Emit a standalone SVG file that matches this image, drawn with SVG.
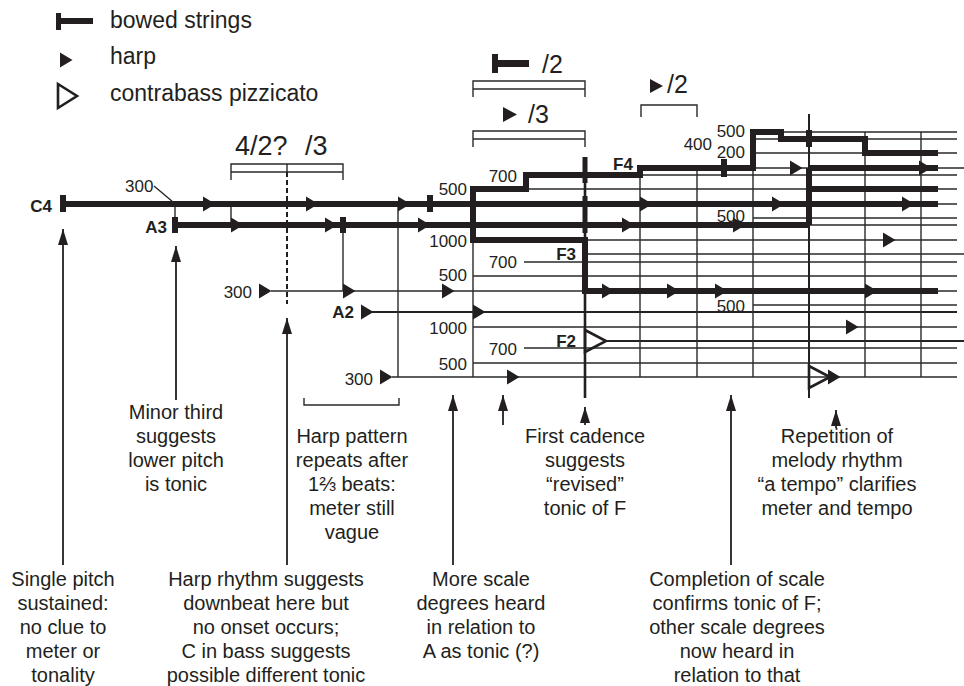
<svg xmlns="http://www.w3.org/2000/svg" xmlns:xlink="http://www.w3.org/1999/xlink" width="964" height="686" viewBox="0 0 964 686">
<style>
text{font-family:"Liberation Sans",Arial,sans-serif;fill:#231f20}
.lg{font-size:23px}
.num{font-size:17px}
.nb{font-size:17px;font-weight:bold}
.big{font-size:25px}
.ann{font-size:20px;text-anchor:middle}
.thin{stroke:#2a2a2a;stroke-width:1.4;fill:none}
.med{stroke:#222;stroke-width:2;fill:none}
.thick{stroke:#231f20;stroke-width:6;fill:none;stroke-linejoin:miter}
.bow{stroke:#231f20;stroke-width:6}
.arr{stroke:#231f20;stroke-width:1.8;fill:none;marker-end:url(#ah)}
.cb{fill:none;stroke:#231f20;stroke-width:2.6;stroke-linejoin:miter}
.h{fill:#231f20}
</style>
<defs>
<path id="hp" d="M0,-7.5 L12.5,0 L0,7.5 Z"/>
<marker id="ah" markerUnits="userSpaceOnUse" markerWidth="18" markerHeight="12" refX="16" refY="5" orient="auto">
<path d="M0,0 L16,5 L0,10 Z" fill="#231f20"/>
</marker>
</defs>
<rect width="964" height="686" fill="#fff"/>

<g id="legend">
<rect x="56" y="13" width="5" height="17" class="h"/>
<rect x="61" y="18" width="32" height="6" class="h"/>
<text x="110" y="28" class="lg">bowed strings</text>
<use xlink:href="#hp" x="60" y="60" class="h"/>
<text x="110" y="64" class="lg">harp</text>
<polygon points="58,84 77,96 58,108" class="cb"/>
<text x="110" y="101" class="lg">contrabass pizzicato</text>
</g>

<g id="grid">
<path class="thin" d="M753,132H957 M753,139H957 M753,153H957 M640,168H964 M585,175H957 M526,189H957 M938,204H957 M753,218H957 M809,225H957 M585,240H957 M585,254H964 M524,262H957 M473,276H957 M271,291H957 M753,305H957 M473,327H957 M524,348H957 M473,363H957 M392,377H957"/>
<path class="med" d="M372,312H957 M605,341H964"/>
<path class="thin" d="M473,240V377 M640,168V377 M697,168V377 M753,132V377 M865,132V377 M921,132V377 M398,204V377 M343,225V291 M175,204V225 M231,204V225"/>
<path class="med" d="M809,114V398"/>
<path stroke="#231f20" stroke-width="2.6" d="M585,157V398"/>
</g>

<g id="brackets">
<path class="thin" d="M473,97V81H585V97 M473,89H585"/>
<path class="thin" d="M473,147V131H585V147 M473,139H585"/>
<path class="thin" d="M641,117V105H697V117"/>
<path class="thin" d="M231,180V164H343V180 M231,172H343 M287,164V172"/>
<path stroke="#231f20" stroke-width="2" stroke-dasharray="5,3" d="M287,172V304"/>
<path class="thin" d="M304,398V405H399V398"/>
<rect x="492" y="54" width="6" height="19" class="h"/>
<rect x="498" y="60" width="31" height="7" class="h"/>
<text x="542" y="73" class="big">/2</text>
<path d="M503,107 L517,114.5 L503,122 Z" class="h"/>
<text x="528" y="123" class="big">/3</text>
<path d="M650,79 L663,86 L650,93 Z" class="h"/>
<text x="667" y="93" class="big">/2</text>
<text x="235" y="155" font-size="27">4/2?</text>
<text x="305" y="155" font-size="27">/3</text>
</g>

<g id="voices">
<path class="thick" d="M63,204H938 M175,225H809 M585,291H938 M809,225V168 M809,168H938 M809,189H938"/>
<path class="thick" d="M938,153H865V139H781V132H753V168H640V175H526V189H473V240H585V294"/>
<path class="bow" d="M63,195V212 M175,217V233 M343,217V233 M430,195V212 M724,159V177 M809,130V147"/>
<path stroke="#231f20" stroke-width="5" d="M585,157V183 M585,196V233"/>
</g>

<g id="harp" class="h">
<use xlink:href="#hp" x="203" y="204"/>
<use xlink:href="#hp" x="306" y="204"/>
<use xlink:href="#hp" x="398" y="204"/>
<use xlink:href="#hp" x="640" y="204"/>
<use xlink:href="#hp" x="772" y="204"/>
<use xlink:href="#hp" x="902" y="204"/>
<use xlink:href="#hp" x="231" y="225"/>
<use xlink:href="#hp" x="325" y="225"/>
<use xlink:href="#hp" x="418" y="225"/>
<use xlink:href="#hp" x="622" y="225"/>
<use xlink:href="#hp" x="733" y="225"/>
<use xlink:href="#hp" x="259" y="291"/>
<use xlink:href="#hp" x="343" y="291"/>
<use xlink:href="#hp" x="442" y="291"/>
<use xlink:href="#hp" x="602" y="291"/>
<use xlink:href="#hp" x="667" y="291"/>
<use xlink:href="#hp" x="715" y="291"/>
<use xlink:href="#hp" x="865" y="291"/>
<use xlink:href="#hp" x="361" y="312"/>
<use xlink:href="#hp" x="473" y="312"/>
<use xlink:href="#hp" x="380" y="377"/>
<use xlink:href="#hp" x="507" y="377"/>
<use xlink:href="#hp" x="883" y="240"/>
<use xlink:href="#hp" x="846" y="327"/>
<use xlink:href="#hp" x="790" y="168"/>
<use xlink:href="#hp" x="919" y="168"/>
<use xlink:href="#hp" x="828" y="377"/>
</g>

<g id="contrabass">
<polygon points="585,330 606,341 585,352" class="cb"/>
<polygon points="809,366 830,377 809,388" class="cb"/>
</g>

<g id="labels">
<text x="52" y="212" class="nb" text-anchor="end">C4</text>
<text x="167" y="233" class="nb" text-anchor="end">A3</text>
<text x="354" y="318" class="nb" text-anchor="end">A2</text>
<text x="576" y="260" class="nb" text-anchor="end">F3</text>
<text x="576" y="347" class="nb" text-anchor="end">F2</text>
<text x="613" y="170" class="nb">F4</text>
<text x="125" y="192" class="num">300</text>
<path class="thin" d="M154,186L173,202"/>
<text x="252" y="298" class="num" text-anchor="end">300</text>
<text x="373" y="385" class="num" text-anchor="end">300</text>
<text x="467" y="195" class="num" text-anchor="end">500</text>
<text x="467" y="247" class="num" text-anchor="end">1000</text>
<text x="467" y="281" class="num" text-anchor="end">500</text>
<text x="467" y="334" class="num" text-anchor="end">1000</text>
<text x="467" y="370" class="num" text-anchor="end">500</text>
<text x="517" y="182" class="num" text-anchor="end">700</text>
<text x="517" y="268" class="num" text-anchor="end">700</text>
<text x="517" y="355" class="num" text-anchor="end">700</text>
<text x="712" y="150" class="num" text-anchor="end">400</text>
<text x="745" y="137" class="num" text-anchor="end">500</text>
<text x="745" y="158" class="num" text-anchor="end">200</text>
<text x="745" y="222" class="num" text-anchor="end">500</text>
<text x="745" y="312" class="num" text-anchor="end">500</text>
</g>

<g id="connectors">
<path class="arr" d="M63,565V229"/>
<path class="arr" d="M176,400V246"/>
<path class="arr" d="M287,565V318"/>
<path class="arr" d="M453,565V395"/>
<path class="arr" d="M503,425V395"/>
<path class="arr" d="M585,425V407"/>
<path class="arr" d="M731,565V395"/>
<path class="arr" d="M836,428V410"/>
</g>

<g id="notes" class="ann">
<text x="63" y="586"><tspan x="63">Single pitch</tspan><tspan x="63" dy="24">sustained:</tspan><tspan x="63" dy="24">no clue to</tspan><tspan x="63" dy="24">meter or</tspan><tspan x="63" dy="24">tonality</tspan></text>
<text x="176" y="419"><tspan x="176">Minor third</tspan><tspan x="176" dy="24">suggests</tspan><tspan x="176" dy="24">lower pitch</tspan><tspan x="176" dy="24">is tonic</tspan></text>
<text x="266" y="586"><tspan x="266">Harp rhythm suggests</tspan><tspan x="266" dy="24">downbeat here but</tspan><tspan x="266" dy="24">no onset occurs;</tspan><tspan x="266" dy="24">C in bass suggests</tspan><tspan x="266" dy="24">possible different tonic</tspan></text>
<text x="352" y="443"><tspan x="352">Harp pattern</tspan><tspan x="352" dy="24">repeats after</tspan><tspan x="352" dy="24">1⅔ beats:</tspan><tspan x="352" dy="24">meter still</tspan><tspan x="352" dy="24">vague</tspan></text>
<text x="481" y="586"><tspan x="481">More scale</tspan><tspan x="481" dy="24">degrees heard</tspan><tspan x="481" dy="24">in relation to</tspan><tspan x="481" dy="24">A as tonic (?)</tspan></text>
<text x="585" y="443"><tspan x="585">First cadence</tspan><tspan x="585" dy="24">suggests</tspan><tspan x="585" dy="24">“revised”</tspan><tspan x="585" dy="24">tonic of F</tspan></text>
<text x="737" y="586"><tspan x="737">Completion of scale</tspan><tspan x="737" dy="24">confirms tonic of F;</tspan><tspan x="737" dy="24">other scale degrees</tspan><tspan x="737" dy="24">now heard in</tspan><tspan x="737" dy="24">relation to that</tspan></text>
<text x="837" y="443"><tspan x="837">Repetition of</tspan><tspan x="837" dy="24">melody rhythm</tspan><tspan x="837" dy="24">“a tempo” clarifies</tspan><tspan x="837" dy="24">meter and tempo</tspan></text>
</g>
</svg>
